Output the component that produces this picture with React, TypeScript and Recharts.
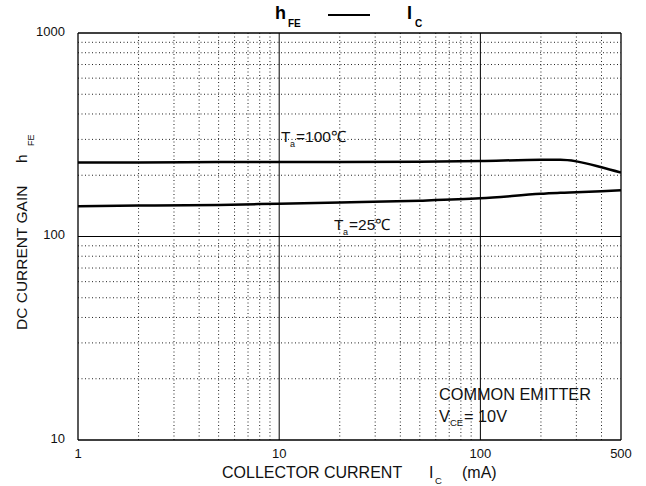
import React from "react";
import {
  LineChart,
  Line,
  XAxis,
  YAxis,
  ReferenceLine,
  ReferenceArea,
} from "recharts";

const currents = [1, 2, 5, 10, 20, 50, 100, 200, 250, 300, 400, 500];
const gain100 = [231, 231, 232, 232, 232, 233, 235, 238, 238, 234, 219, 206];
const gain25 = [141, 142, 143, 145, 147, 150, 154, 162, 164, 165, 167, 169];

const xTicks = [1, 10, 100, 500];
const yTicks = [10, 100, 1000];
const xMajor = [10, 100];
const yMajor = [100];
const xMinor = [2, 3, 4, 5, 6, 7, 8, 9, 20, 30, 40, 50, 60, 70, 80, 90, 200, 300, 400];
const yMinor = [20, 30, 40, 50, 60, 70, 80, 90, 200, 300, 400, 500, 600, 700, 800, 900];

const data = currents.map((c, i) => ({ ic: c, t100: gain100[i], t25: gain25[i] }));

const FONT = "'Liberation Sans', Arial, sans-serif";

export default function App() {
  return (
    <div style={{ position: "absolute", left: 0, top: 0, width: 646, height: 486, background: "#fff", fontFamily: FONT }}>
      <LineChart
        width={646}
        height={486}
        data={data}
        margin={{ top: 33, right: 25, left: 0, bottom: 0 }}
      >
        <XAxis
          dataKey="ic"
          type="number"
          scale="log"
          domain={[1, 500]}
          ticks={xTicks}
          allowDataOverflow
          height={46}
          tickLine={false}
          axisLine={{ stroke: "#000", strokeWidth: 1.3 }}
          tick={{ fill: "#111", fontSize: 13, fontFamily: FONT }}
          tickMargin={3}
        />
        <YAxis
          type="number"
          scale="log"
          domain={[10, 1000]}
          ticks={yTicks}
          allowDataOverflow
          width={78}
          tickLine={false}
          axisLine={{ stroke: "#000", strokeWidth: 1.3 }}
          tick={{ fill: "#111", fontSize: 13, fontFamily: FONT, dy: -2 }}
          tickMargin={7}
        />
        {xMinor.map((v) => (
          <ReferenceLine key={"xm" + v} x={v} stroke="#222" strokeDasharray="1 2.5" strokeWidth={1} />
        ))}
        {yMinor.map((v) => (
          <ReferenceLine key={"ym" + v} y={v} stroke="#222" strokeDasharray="1 2.5" strokeWidth={1} />
        ))}
        <ReferenceArea x1={52} x2={499} y1={10.4} y2={19.5} fill="#fff" fillOpacity={1} stroke="none" />
        {xMajor.map((v) => (
          <ReferenceLine key={"xM" + v} x={v} stroke="#000" strokeWidth={1} />
        ))}
        {yMajor.map((v) => (
          <ReferenceLine key={"yM" + v} y={v} stroke="#000" strokeWidth={1} />
        ))}
        <ReferenceLine x={500} stroke="#000" strokeWidth={1.3} />
        <ReferenceLine y={1000} stroke="#000" strokeWidth={1.3} />
        <Line
          dataKey="t100"
          type="monotone"
          stroke="#000"
          strokeWidth={2.5}
          dot={false}
          isAnimationActive={false}
        />
        <Line
          dataKey="t25"
          type="monotone"
          stroke="#000"
          strokeWidth={2.5}
          dot={false}
          isAnimationActive={false}
        />
      </LineChart>
      <svg
        width={646}
        height={486}
        style={{ position: "absolute", left: 0, top: 0, pointerEvents: "none" }}
        fontFamily={FONT}
      >
        <text x={275} y={18.5} fontSize={18} fontWeight="bold" fill="#000">h</text>
        <text x={288} y={27} fontSize={10} fontWeight="bold" fill="#000">FE</text>
        <line x1={328} y1={15} x2={370} y2={15} stroke="#000" strokeWidth={2} />
        <text x={407} y={18.5} fontSize={18} fontWeight="bold" fill="#000">I</text>
        <text x={415} y={27} fontSize={10} fontWeight="bold" fill="#000">C</text>

        <text transform="translate(27,330) rotate(-90)" fontSize={15.5} fill="#111">
          DC CURRENT GAIN
        </text>
        <text transform="translate(27,163) rotate(-90)" fontSize={15.5} fill="#111">h</text>
        <text transform="translate(34,146) rotate(-90)" fontSize={9} fill="#111">FE</text>

        <text x={222} y={478} fontSize={16} fill="#111">COLLECTOR CURRENT</text>
        <text x={429} y={478} fontSize={16} fill="#111">I</text>
        <text x={435} y={484} fontSize={9.5} fill="#111">C</text>
        <text x={462} y={478} fontSize={16} fill="#111">(mA)</text>

        <text x={439} y={400} fontSize={16.3} fill="#111">COMMON EMITTER</text>
        <text x={439} y={422} fontSize={16.3} fill="#111">V</text>
        <text x={450} y={426} fontSize={9.5} fill="#111">CE</text>
        <text x={464} y={422} fontSize={16.3} fill="#111">= 10V</text>

        <text x={281} y={142} fontSize={15.5} fill="#111">T</text>
        <text x={290} y={147} fontSize={9} fill="#111">a</text>
        <text x={296} y={142} fontSize={15.5} fill="#111">=100℃</text>

        <text x={334} y={230} fontSize={15.5} fill="#111">T</text>
        <text x={343} y={235} fontSize={9} fill="#111">a</text>
        <text x={349} y={230} fontSize={15.5} fill="#111">=25℃</text>
      </svg>
    </div>
  );
}
